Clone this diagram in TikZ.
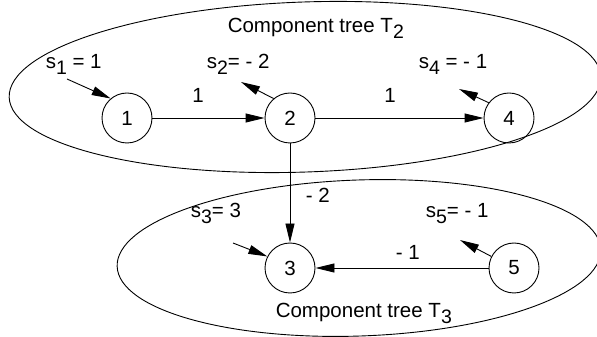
\documentclass[tikz,border=0pt]{standalone}
\usepackage{fontspec}
\setmainfont{Liberation Sans}
\usetikzlibrary{arrows.meta}
\newcommand{\lowsub}[1]{\raisebox{-6pt}{\fontsize{19.5}{20}\selectfont #1}}

\begin{document}
\begin{tikzpicture}[x=10pt, y=10pt, line width=0.9pt,
  every node/.style={font=\fontsize{20.5}{24}\selectfont},
  vertex/.style={circle, draw, minimum size=50pt, inner sep=0pt},
  arr/.style={-{Triangle[length=19pt,width=9pt]}}]
  \useasboundingbox (0,0) rectangle (59.7,33.7);

  % component trees
  \draw[rotate around={2:(30.5,25.0)}] (30.5,25.0) ellipse (29.6 and 8.5);
  \draw[rotate around={2:(35.9,7.9)}] (35.9,7.9) ellipse (24.2 and 7.8);
  \node[anchor=base west] (t2) at (22.4,30.4) {Component tree T\lowsub{2}};
  \node[anchor=base west] (t3) at (27.2,1.9) {Component tree T\lowsub{3}};

  % vertices
  \node[vertex] (n1) at (12.7,21.9) {1};
  \node[vertex] (n2) at (29.0,21.9) {2};
  \node[vertex] (n4) at (50.9,21.9) {4};
  \node[vertex] (n3) at (29.0,6.9) {3};
  \node[vertex] (n5) at (51.4,6.9) {5};

  % tree arcs
  \draw[arr] (n1) -- (n2);
  \draw[arr] (n2) -- (n4);
  \draw[arr] (n2) -- (n3);
  \draw[arr] (n5) -- (n3);
  \node[anchor=base] (w12) at (19.8,23.4) {1};
  \node[anchor=base] (w24) at (39.0,23.4) {1};
  \node[anchor=base west] (w23) at (30.2,13.4) {- 2};
  \node[anchor=base west] (w53) at (39.2,7.7) {- 1};

  % supplies
  \coordinate (s1) at (6.7,25.8);
  \coordinate (s2) at (24.1,25.5);
  \coordinate (s4) at (45.9,24.8);
  \coordinate (s3) at (23.3,9.4);
  \coordinate (s5) at (46.0,9.7);
  \draw[arr] (s1) -- (n1.130);
  \draw[arr] (n2.130) -- (s2);
  \draw[arr] (n4.143) -- (s4);
  \draw[arr] (s3) -- (n3.153);
  \draw[arr] (n5.153) -- (s5);
  \node[anchor=base west] (l1) at (4.2,26.8) {s\lowsub{1} = 1};
  \node[anchor=base west] (l2) at (20.3,26.8) {s\lowsub{2}= - 2};
  \node[anchor=base west] (l4) at (41.5,26.8) {s\lowsub{4} = - 1};
  \node[anchor=base west] (l3) at (18.7,11.9) {s\lowsub{3}= 3};
  \node[anchor=base west] (l5) at (42.2,11.9) {s\lowsub{5}= - 1};
\end{tikzpicture}
\end{document}
